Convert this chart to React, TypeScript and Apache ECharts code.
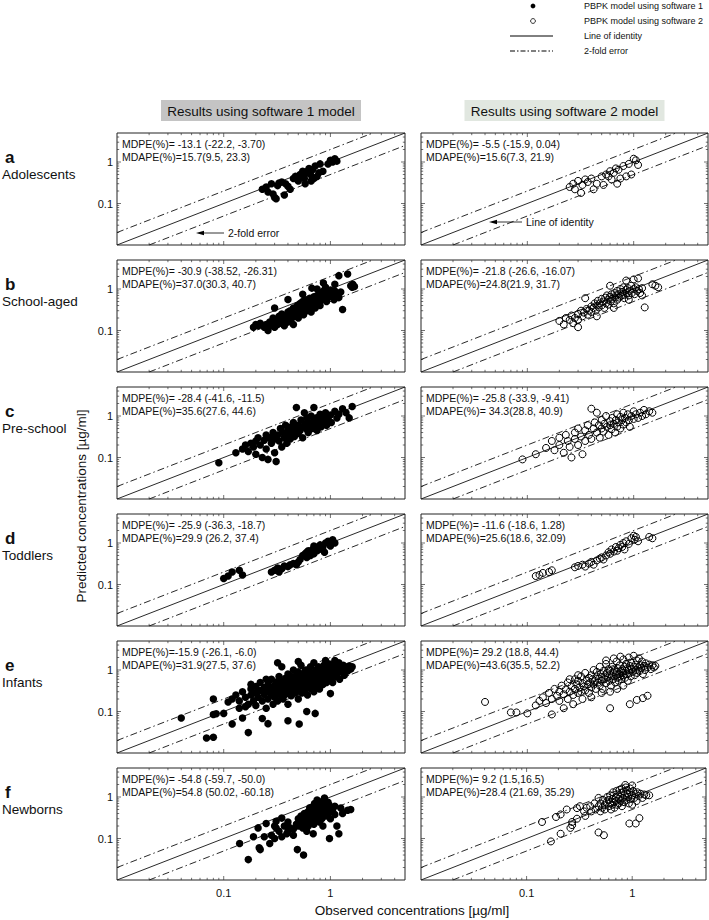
import React, { useEffect, useRef } from 'react';
import * as echarts from 'echarts';

const FONT = '"Liberation Sans", Arial, Helvetica, sans-serif';

// ---------- data ----------
const rowLetters = ['a', 'b', 'c', 'd', 'e', 'f'];
const rowNames = ['Adolescents', 'School-aged', 'Pre-school', 'Toddlers', 'Infants', 'Newborns'];
const colTitles = ['Results using software 1 model', 'Results using software 2 model'];

const mdpe1 = ['MDPE(%)= -13.1 (-22.2, -3.70)', 'MDPE(%)= -30.9 (-38.52, -26.31)', 'MDPE(%)= -28.4 (-41.6, -11.5)', 'MDPE(%)= -25.9 (-36.3, -18.7)', 'MDPE(%)=-15.9 (-26.1, -6.0)', 'MDPE(%)= -54.8 (-59.7, -50.0)'];
const mdape1 = ['MDAPE(%)=15.7(9.5, 23.3)', 'MDAPE(%)=37.0(30.3, 40.7)', 'MDAPE(%)=35.6(27.6, 44.6)', 'MDAPE(%)=29.9 (26.2, 37.4)', 'MDAPE(%)=31.9(27.5, 37.6)', 'MDAPE(%)=54.8 (50.02, -60.18)'];
const mdpe2 = ['MDPE(%)= -5.5 (-15.9, 0.04)', 'MDPE(%)= -21.8 (-26.6, -16.07)', 'MDPE(%)= -25.8 (-33.9, -9.41)', 'MDPE(%)= -11.6 (-18.6, 1.28)', 'MDPE(%)= 29.2 (18.8, 44.4)', 'MDPE(%)= 9.2 (1.5,16.5)'];
const mdape2 = ['MDAPE(%)=15.6(7.3, 21.9)', 'MDAPE(%)=24.8(21.9, 31.7)', 'MDAPE(%)= 34.3(28.8, 40.9)', 'MDAPE(%)=25.6(18.6, 32.09)', 'MDAPE(%)=43.6(35.5, 52.2)', 'MDAPE(%)=28.4 (21.69, 35.29)'];

const legendLabels = ['PBPK model using software 1', 'PBPK model using software 2', 'Line of identity', '2-fold error'];

const axisMin = 0.01;
const axisMax = 5;
const identityLine = [[0.01, 0.01], [5, 5]];
const upperFold = [[0.01, 0.02], [2.5, 5]];
const lowerFold = [[0.02, 0.01], [5, 2.5]];

const A1 = [[0.23,0.22],[0.25,0.25],[0.26,0.19],[0.28,0.3],[0.29,0.17],[0.3,0.14],[0.31,0.13],[0.32,0.27],[0.33,0.31],[0.35,0.33],[0.37,0.16],[0.38,0.3],[0.4,0.26],[0.42,0.22],[0.45,0.4],[0.47,0.45],[0.5,0.35],[0.52,0.5],[0.55,0.45],[0.55,0.6],[0.57,0.4],[0.58,0.3],[0.6,0.55],[0.62,0.62],[0.63,0.7],[0.65,0.5],[0.66,0.35],[0.68,0.65],[0.7,0.4],[0.72,0.8],[0.75,0.45],[0.78,0.55],[0.8,0.9],[0.85,0.6],[0.95,0.9],[1.0,1.1],[1.05,1.0],[1.1,1.2],[1.15,1.05]];
const A2 = [[0.25,0.25],[0.27,0.3],[0.28,0.22],[0.3,0.35],[0.32,0.18],[0.33,0.28],[0.35,0.38],[0.37,0.33],[0.4,0.4],[0.42,0.22],[0.45,0.3],[0.5,0.45],[0.52,0.28],[0.55,0.5],[0.58,0.45],[0.6,0.6],[0.62,0.38],[0.65,0.55],[0.68,0.7],[0.7,0.3],[0.72,0.65],[0.75,0.4],[0.8,0.8],[0.85,0.45],[0.9,0.9],[0.95,0.5],[1.0,1.2],[1.05,1.1],[1.1,0.85]];

const B1 = [[0.19,0.12],[0.2,0.14],[0.21,0.13],[0.22,0.15],[0.24,0.12],[0.25,0.14],[0.26,0.1],[0.27,0.16],[0.28,0.13],[0.29,0.2],[0.3,0.16],[0.3,0.12],[0.31,0.18],[0.32,0.14],[0.33,0.22],[0.34,0.18],[0.35,0.15],[0.35,0.25],[0.36,0.2],[0.37,0.13],[0.38,0.23],[0.39,0.18],[0.4,0.28],[0.4,0.16],[0.41,0.22],[0.42,0.3],[0.43,0.19],[0.44,0.26],[0.45,0.35],[0.45,0.14],[0.46,0.22],[0.47,0.3],[0.48,0.25],[0.49,0.4],[0.5,0.33],[0.5,0.2],[0.51,0.28],[0.52,0.45],[0.53,0.37],[0.54,0.3],[0.55,0.5],[0.56,0.24],[0.57,0.42],[0.58,0.35],[0.59,0.55],[0.6,0.45],[0.6,0.3],[0.62,0.5],[0.63,0.38],[0.64,0.6],[0.65,0.46],[0.66,0.28],[0.67,0.55],[0.68,0.42],[0.7,0.65],[0.7,0.5],[0.72,0.35],[0.73,0.58],[0.75,0.7],[0.76,0.48],[0.78,0.62],[0.8,0.8],[0.8,0.4],[0.82,0.55],[0.84,0.7],[0.86,0.9],[0.88,0.6],[0.9,0.75],[0.92,0.5],[0.95,0.85],[0.97,0.65],[1.0,0.95],[1.02,0.7],[1.05,0.8],[1.08,0.55],[1.1,0.9],[1.15,0.75],[1.2,0.62],[1.25,0.85],[1.3,0.32],[0.4,0.56],[0.67,1.05],[0.86,1.4],[1.2,2.1],[1.45,2.3],[1.55,1.2],[1.62,1.3],[1.68,1.15],[1.6,1.1],[0.55,0.75],[0.75,1.0],[0.9,1.1],[1.1,1.3],[0.3,0.35]];
const B2 = [[0.2,0.17],[0.22,0.14],[0.23,0.2],[0.25,0.18],[0.26,0.23],[0.27,0.15],[0.28,0.2],[0.3,0.25],[0.3,0.18],[0.32,0.3],[0.33,0.22],[0.34,0.27],[0.35,0.6],[0.36,0.33],[0.37,0.24],[0.38,0.3],[0.4,0.38],[0.4,0.28],[0.42,0.35],[0.43,0.45],[0.44,0.3],[0.45,0.4],[0.46,0.52],[0.47,0.36],[0.48,0.45],[0.5,0.58],[0.5,0.4],[0.52,0.5],[0.53,0.35],[0.54,0.62],[0.55,0.45],[0.56,0.7],[0.57,0.55],[0.58,0.42],[0.6,0.65],[0.6,1.2],[0.61,0.5],[0.62,0.75],[0.63,0.58],[0.65,0.45],[0.66,0.8],[0.67,0.62],[0.68,0.7],[0.7,0.9],[0.7,0.55],[0.72,0.75],[0.73,0.62],[0.75,1.0],[0.76,0.68],[0.78,0.85],[0.8,0.72],[0.8,1.1],[0.82,0.6],[0.84,0.95],[0.85,1.6],[0.86,0.8],[0.88,1.05],[0.9,0.7],[0.92,0.9],[0.95,1.2],[0.96,0.8],[1.0,1.0],[1.0,1.7],[1.02,0.75],[1.05,1.1],[1.08,0.9],[1.1,1.8],[1.12,1.0],[1.15,0.8],[1.2,1.05],[1.27,0.36],[1.5,1.3],[1.6,1.2],[1.7,1.1],[0.45,0.22],[0.65,0.35],[0.9,0.55],[1.2,0.7],[0.3,0.12]];

const C1 = [[0.09,0.075],[0.13,0.13],[0.15,0.16],[0.16,0.2],[0.17,0.14],[0.18,0.22],[0.19,0.18],[0.2,0.25],[0.2,0.12],[0.21,0.3],[0.22,0.2],[0.23,0.1],[0.24,0.26],[0.25,0.35],[0.25,0.16],[0.26,0.09],[0.27,0.3],[0.28,0.22],[0.29,0.4],[0.3,0.13],[0.3,0.28],[0.31,0.08],[0.32,0.35],[0.33,0.25],[0.34,0.5],[0.35,0.18],[0.36,0.4],[0.37,0.3],[0.38,0.6],[0.39,0.22],[0.4,0.45],[0.41,0.35],[0.42,0.28],[0.43,0.55],[0.44,0.4],[0.45,0.7],[0.46,0.32],[0.47,0.5],[0.48,1.6],[0.5,0.6],[0.5,0.38],[0.52,0.45],[0.53,0.8],[0.55,0.55],[0.55,0.3],[0.57,1.2],[0.58,0.65],[0.6,0.48],[0.6,0.9],[0.62,0.4],[0.63,0.7],[0.65,0.58],[0.66,1.0],[0.68,0.5],[0.7,0.75],[0.7,1.6],[0.72,0.62],[0.74,0.9],[0.75,0.45],[0.77,0.8],[0.8,0.65],[0.8,1.1],[0.82,0.55],[0.85,0.95],[0.88,0.75],[0.9,1.2],[0.92,0.6],[0.95,0.85],[1.0,1.05],[1.02,0.7],[1.1,1.3],[1.15,0.9],[1.2,1.1],[1.3,1.5],[1.4,1.2],[1.6,1.7],[1.5,0.9]];
const C2 = [[0.09,0.09],[0.12,0.12],[0.15,0.17],[0.17,0.25],[0.18,0.15],[0.2,0.3],[0.2,0.2],[0.22,0.13],[0.23,0.35],[0.24,0.25],[0.25,0.18],[0.26,0.1],[0.28,0.4],[0.28,0.28],[0.3,0.2],[0.3,0.5],[0.32,0.32],[0.33,0.12],[0.35,0.45],[0.35,0.25],[0.37,0.6],[0.38,0.35],[0.4,1.5],[0.4,0.28],[0.42,0.5],[0.43,0.7],[0.45,0.4],[0.45,1.2],[0.47,0.6],[0.48,0.3],[0.5,0.8],[0.5,0.5],[0.52,0.42],[0.53,0.65],[0.55,1.0],[0.56,0.55],[0.58,0.35],[0.6,0.75],[0.6,0.6],[0.62,0.48],[0.63,0.9],[0.65,0.65],[0.67,0.4],[0.68,0.8],[0.7,0.55],[0.7,1.1],[0.72,0.7],[0.75,0.95],[0.75,0.5],[0.78,0.8],[0.8,0.62],[0.8,1.2],[0.83,0.9],[0.85,0.7],[0.88,1.1],[0.9,0.8],[0.92,0.55],[0.95,1.0],[1.0,0.85],[1.0,1.3],[1.05,1.1],[1.1,0.9],[1.15,1.2],[1.2,1.0],[1.25,1.4],[1.3,1.1],[1.4,1.3],[1.5,1.2]];

const D1 = [[0.1,0.14],[0.11,0.16],[0.12,0.2],[0.14,0.22],[0.15,0.17],[0.28,0.2],[0.3,0.22],[0.32,0.25],[0.33,0.2],[0.35,0.24],[0.37,0.28],[0.4,0.27],[0.42,0.3],[0.45,0.32],[0.48,0.3],[0.5,0.35],[0.52,0.4],[0.55,0.5],[0.58,0.55],[0.6,0.6],[0.62,0.65],[0.65,0.5],[0.68,0.7],[0.7,0.55],[0.72,0.8],[0.75,0.65],[0.78,0.7],[0.8,0.9],[0.82,0.75],[0.85,0.8],[0.9,1.0],[0.95,1.1],[1.0,0.85],[1.05,1.2],[1.1,1.0],[0.7,0.85],[0.88,0.6],[0.6,0.45]];
const D2 = [[0.12,0.16],[0.13,0.17],[0.14,0.19],[0.16,0.2],[0.17,0.22],[0.28,0.26],[0.3,0.28],[0.33,0.3],[0.35,0.27],[0.38,0.32],[0.4,0.35],[0.42,0.3],[0.45,0.38],[0.48,0.42],[0.5,0.45],[0.52,0.4],[0.55,0.5],[0.58,0.6],[0.6,0.55],[0.62,0.7],[0.65,0.62],[0.68,0.8],[0.7,0.65],[0.72,0.75],[0.75,0.9],[0.78,0.8],[0.8,1.0],[0.82,0.7],[0.85,1.1],[0.9,0.95],[0.95,1.3],[1.0,1.5],[1.02,1.2],[1.05,1.4],[1.1,1.1],[1.4,1.4],[1.5,1.3]];

const E1 = [[0.04,0.07],[0.069,0.023],[0.08,0.024],[0.08,0.085],[0.085,0.088],[0.1,0.09],[0.08,0.2],[0.11,0.17],[0.12,0.05],[0.17,0.031],[0.15,0.07],[0.14,0.12],[0.16,0.13],[0.23,0.068],[0.26,0.051],[0.4,0.06],[0.51,0.05],[0.6,0.1],[0.72,0.09],[1.0,0.27],[0.12,0.2],[0.13,0.25],[0.14,0.18],[0.15,0.3],[0.16,0.22],[0.17,0.15],[0.18,0.35],[0.18,0.25],[0.19,0.18],[0.2,0.4],[0.2,0.28],[0.2,0.14],[0.21,0.22],[0.22,0.32],[0.22,0.5],[0.23,0.18],[0.24,0.26],[0.24,0.38],[0.25,0.12],[0.25,0.3],[0.26,0.2],[0.26,0.45],[0.27,0.34],[0.28,0.25],[0.28,0.6],[0.29,0.15],[0.29,0.4],[0.3,0.3],[0.3,0.22],[0.31,0.5],[0.31,0.35],[0.32,0.18],[0.32,0.28],[0.33,0.42],[0.33,0.7],[0.34,0.25],[0.34,0.55],[0.35,0.32],[0.35,1.2],[0.36,0.4],[0.36,0.2],[0.37,0.48],[0.37,0.3],[0.38,0.62],[0.38,0.26],[0.39,0.36],[0.4,0.45],[0.4,0.8],[0.4,0.15],[0.41,0.3],[0.42,0.55],[0.42,0.38],[0.43,0.24],[0.43,0.7],[0.44,0.42],[0.45,0.5],[0.45,0.32],[0.45,1.0],[0.46,0.6],[0.47,0.28],[0.47,0.45],[0.48,0.75],[0.48,0.38],[0.49,0.55],[0.5,0.2],[0.5,0.5],[0.5,0.9],[0.51,0.35],[0.52,0.65],[0.52,0.45],[0.53,1.3],[0.54,0.28],[0.54,0.58],[0.55,0.8],[0.55,0.4],[0.56,0.5],[0.57,0.68],[0.58,0.32],[0.58,1.0],[0.59,0.55],[0.6,0.45],[0.6,0.75],[0.61,0.25],[0.62,0.62],[0.62,0.9],[0.63,0.4],[0.64,0.52],[0.65,1.2],[0.65,0.7],[0.66,0.35],[0.67,0.58],[0.68,0.85],[0.68,0.45],[0.69,0.65],[0.7,1.5],[0.7,0.3],[0.71,0.75],[0.72,0.55],[0.73,1.0],[0.74,0.42],[0.75,0.68],[0.75,0.88],[0.76,0.5],[0.77,1.2],[0.78,0.6],[0.79,0.35],[0.8,0.8],[0.8,0.95],[0.82,0.55],[0.83,1.1],[0.84,0.7],[0.85,0.45],[0.86,0.9],[0.87,1.3],[0.88,0.62],[0.9,0.78],[0.9,1.0],[0.92,0.5],[0.93,1.15],[0.95,0.7],[0.96,0.88],[0.98,1.4],[1.0,0.6],[1.0,1.05],[1.02,0.8],[1.05,1.2],[1.05,0.5],[1.08,0.95],[1.1,1.3],[1.12,0.7],[1.15,1.05],[1.18,0.85],[1.2,1.5],[1.22,0.6],[1.25,1.1],[1.3,0.9],[1.32,1.3],[1.35,0.75],[1.4,1.15],[1.45,0.95],[1.5,1.25],[1.55,1.05],[1.6,1.2],[0.32,1.5],[0.5,1.6],[0.9,1.7],[1.1,1.7],[0.25,0.6],[0.18,0.45]];
const E2 = [[0.04,0.17],[0.07,0.095],[0.079,0.095],[0.1,0.09],[0.17,0.085],[0.6,0.12],[0.92,0.15],[1.07,0.19],[1.22,0.21],[1.35,0.24],[0.12,0.14],[0.13,0.18],[0.14,0.22],[0.15,0.16],[0.16,0.28],[0.17,0.2],[0.18,0.35],[0.19,0.24],[0.2,0.3],[0.2,0.18],[0.21,0.42],[0.22,0.26],[0.23,0.34],[0.24,0.2],[0.24,0.5],[0.25,0.3],[0.26,0.4],[0.27,0.25],[0.28,0.6],[0.28,0.35],[0.29,0.45],[0.3,0.28],[0.3,0.55],[0.31,0.38],[0.32,0.7],[0.32,0.3],[0.33,0.48],[0.34,0.4],[0.35,0.85],[0.35,0.32],[0.36,0.55],[0.37,0.45],[0.38,0.65],[0.38,0.28],[0.39,0.5],[0.4,0.75],[0.4,0.38],[0.41,0.6],[0.42,1.0],[0.42,0.45],[0.43,0.55],[0.44,0.35],[0.45,0.7],[0.45,0.9],[0.46,0.5],[0.47,0.62],[0.48,1.2],[0.48,0.42],[0.49,0.8],[0.5,0.55],[0.5,0.68],[0.51,0.35],[0.52,0.95],[0.53,0.6],[0.54,0.75],[0.55,0.48],[0.55,1.4],[0.56,0.85],[0.57,0.65],[0.58,1.05],[0.59,0.55],[0.6,0.78],[0.6,0.95],[0.61,0.42],[0.62,0.7],[0.63,1.2],[0.64,0.6],[0.65,0.88],[0.66,1.0],[0.67,0.5],[0.68,0.75],[0.69,1.6],[0.7,0.65],[0.7,0.9],[0.71,1.1],[0.72,0.55],[0.73,0.8],[0.74,1.3],[0.75,0.7],[0.76,0.95],[0.77,0.6],[0.78,1.05],[0.79,0.85],[0.8,1.8],[0.8,0.75],[0.82,1.2],[0.83,0.65],[0.84,0.95],[0.85,1.4],[0.86,0.8],[0.87,1.1],[0.88,0.55],[0.9,1.0],[0.9,2.0],[0.91,0.85],[0.92,1.25],[0.94,0.7],[0.95,1.5],[0.96,1.05],[0.98,0.9],[1.0,1.2],[1.0,2.2],[1.02,0.75],[1.04,1.35],[1.05,1.0],[1.07,1.7],[1.08,0.85],[1.1,1.15],[1.12,1.9],[1.14,0.95],[1.15,1.3],[1.18,1.1],[1.2,1.6],[1.22,0.8],[1.25,1.25],[1.28,1.0],[1.3,1.45],[1.35,1.15],[1.4,1.35],[1.45,1.05],[1.5,1.3],[1.55,1.15],[1.6,1.25],[0.22,0.12],[0.27,0.15],[0.33,0.2],[0.4,0.22],[0.5,0.28],[0.6,0.3],[0.7,0.35],[0.8,0.42],[0.3,0.75],[0.25,0.6],[0.55,1.7],[0.65,1.9],[0.75,2.1]];

const F1 = [[0.141,0.076],[0.17,0.031],[0.19,0.11],[0.21,0.18],[0.22,0.054],[0.215,0.06],[0.25,0.23],[0.24,0.11],[0.27,0.076],[0.31,0.18],[0.31,0.26],[0.35,0.31],[0.35,0.11],[0.39,0.13],[0.49,0.054],[0.56,0.04],[0.69,0.13],[0.98,0.1],[1.2,0.13],[1.25,0.54],[1.45,0.48],[1.55,0.5],[0.75,0.85],[0.88,0.95],[0.28,0.12],[0.3,0.1],[0.33,0.15],[0.37,0.2],[0.4,0.15],[0.42,0.18],[0.45,0.17],[0.48,0.22],[0.5,0.2],[0.5,0.3],[0.52,0.25],[0.53,0.35],[0.55,0.18],[0.55,0.28],[0.57,0.4],[0.58,0.22],[0.6,0.32],[0.6,0.25],[0.62,0.45],[0.62,0.2],[0.63,0.3],[0.64,0.55],[0.65,0.38],[0.66,0.25],[0.67,0.48],[0.68,0.33],[0.69,0.6],[0.7,0.4],[0.7,0.22],[0.71,0.7],[0.72,0.5],[0.73,0.3],[0.74,0.42],[0.75,0.6],[0.76,0.35],[0.77,0.75],[0.78,0.45],[0.79,0.25],[0.8,0.55],[0.8,0.38],[0.82,0.65],[0.83,0.3],[0.84,0.5],[0.85,0.8],[0.86,0.42],[0.88,0.6],[0.9,0.35],[0.9,0.7],[0.92,0.5],[0.95,0.4],[0.97,0.65],[1.0,0.3],[1.0,0.55],[1.05,0.45],[1.1,0.38],[1.1,0.6],[1.15,0.2],[1.3,0.4],[0.45,0.12],[0.4,0.25],[0.6,0.15],[0.85,0.2],[0.3,0.2],[0.95,0.75]];
const F2 = [[0.14,0.25],[0.17,0.085],[0.19,0.33],[0.21,0.13],[0.21,0.38],[0.24,0.5],[0.27,0.25],[0.27,0.21],[0.26,0.18],[0.3,0.54],[0.32,0.6],[0.37,0.55],[0.36,0.35],[0.41,0.45],[0.48,0.14],[0.54,0.12],[0.48,0.95],[1.08,0.23],[0.94,0.23],[1.17,0.31],[1.36,1.1],[1.45,1.1],[0.86,1.95],[1.0,1.9],[0.45,0.5],[0.48,0.6],[0.5,0.45],[0.5,0.7],[0.52,0.55],[0.53,0.85],[0.55,0.65],[0.55,0.5],[0.57,0.75],[0.58,1.0],[0.6,0.6],[0.6,0.85],[0.62,0.7],[0.62,1.1],[0.63,0.5],[0.65,0.9],[0.65,0.65],[0.66,1.3],[0.67,0.75],[0.68,0.55],[0.7,1.0],[0.7,0.8],[0.71,1.4],[0.72,0.65],[0.73,1.15],[0.74,0.9],[0.75,0.7],[0.76,1.5],[0.77,1.0],[0.78,0.8],[0.79,1.25],[0.8,0.6],[0.8,1.6],[0.82,0.95],[0.83,1.35],[0.84,0.75],[0.85,1.1],[0.87,1.7],[0.88,0.85],[0.9,1.2],[0.9,1.45],[0.92,1.0],[0.93,0.7],[0.95,1.3],[0.96,1.6],[0.98,0.9],[1.0,1.1],[1.0,0.65],[1.02,1.4],[1.05,0.95],[1.08,1.2],[1.1,0.8],[1.12,1.3],[1.15,1.05],[1.2,1.2],[1.25,0.95],[1.3,1.15],[0.4,0.6],[0.44,0.7],[0.35,0.45],[0.3,0.3]];

const software1Data = [A1, B1, C1, D1, E1, F1];
const software2Data = [A2, B2, C2, D2, E2, F2];

// ---------- layout ----------
const COL_LEFT = [117, 421];
const COL_W = [288, 287];
const ROW_TOP0 = 133;
const ROW_STEP = 127;
const ROW_H = 112;
const DASHDOT = [7, 3, 1.5, 3];

const fmtLog = (v: number) => {
  const e = Math.round(Math.log10(v));
  if (Math.abs(Math.log10(v) - e) > 1e-6) return '';
  return e === -1 ? '0.1' : e === 0 ? '1' : '';
};

export default function App() {
  const ref = useRef<HTMLDivElement>(null);
  useEffect(() => {
    const chart = echarts.init(ref.current as HTMLDivElement, null, { renderer: 'svg' });
    const grid: any[] = [];
    const xAxis: any[] = [];
    const yAxis: any[] = [];
    const series: any[] = [];
    for (let r = 0; r < 6; r++) {
      for (let c = 0; c < 2; c++) {
        const g = r * 2 + c;
        grid.push({
          left: COL_LEFT[c], top: ROW_TOP0 + r * ROW_STEP, width: COL_W[c], height: ROW_H,
          show: true, borderColor: '#222', borderWidth: 1, backgroundColor: 'transparent',
        });
        xAxis.push({
          type: 'log', logBase: 10, gridIndex: g, min: axisMin, max: axisMax,
          axisLine: { show: false }, axisTick: { show: false }, splitLine: { show: false },
          axisLabel: { show: r === 5, formatter: fmtLog, fontSize: 11, color: '#111', margin: 7, fontFamily: FONT },
        });
        yAxis.push({
          type: 'log', logBase: 10, gridIndex: g, min: axisMin, max: axisMax,
          axisLine: { show: false }, axisTick: { show: false }, splitLine: { show: false },
          axisLabel: { show: c === 0, formatter: fmtLog, fontSize: 11, color: '#111', margin: 4, fontFamily: FONT },
        });
        const lineBase = { type: 'line', xAxisIndex: g, yAxisIndex: g, showSymbol: false, silent: true, clip: true, z: 2 };
        series.push({ ...lineBase, data: identityLine, lineStyle: { color: '#111', width: 0.9 } });
        series.push({ ...lineBase, data: upperFold, lineStyle: { color: '#111', width: 0.9, type: DASHDOT } });
        series.push({ ...lineBase, data: lowerFold, lineStyle: { color: '#111', width: 0.9, type: DASHDOT } });
        const pts = c === 0 ? software1Data[r] : software2Data[r];
        series.push({
          type: 'scatter', xAxisIndex: g, yAxisIndex: g, data: pts, silent: true, z: 3,
          symbol: 'circle', symbolSize: c === 0 ? 7.5 : 7,
          itemStyle: c === 0
            ? { color: '#000', opacity: 1 }
            : { color: 'rgba(0,0,0,0)', borderColor: '#000', borderWidth: 1, opacity: 1 },
        });
      }
    }
    chart.setOption({ animation: false, grid, xAxis, yAxis, series });

    const els: any[] = [];
    const txt = (x: number, y: number, text: string, size: number, extra: any = {}) => ({
      type: 'text', x, y, silent: true, z: 10,
      style: { text, fontSize: size, fontFamily: FONT, fill: '#111', textAlign: 'left', textVerticalAlign: 'middle', ...extra },
    });

    // column titles
    const titleFills = ['#c4c4c4', '#e1e7e0'];
    for (let c = 0; c < 2; c++) {
      const cx = COL_LEFT[c] + COL_W[c] / 2;
      els.push({ type: 'rect', silent: true, z: 9, shape: { x: cx - 100, y: 100, width: 200, height: 21 }, style: { fill: titleFills[c] } });
      els.push(txt(cx, 111, colTitles[c], 13.5, { textAlign: 'center' }));
    }

    // row labels & stats
    for (let r = 0; r < 6; r++) {
      const top = ROW_TOP0 + r * ROW_STEP;
      els.push(txt(5, top + 24, rowLetters[r], 17, { fontWeight: 'bold' }));
      els.push(txt(2, top + 41, rowNames[r], 13.5));
      els.push(txt(COL_LEFT[0] + 5, top + 11, mdpe1[r], 10.5));
      els.push(txt(COL_LEFT[0] + 5, top + 24, mdape1[r], 10.5));
      els.push(txt(COL_LEFT[1] + 5, top + 11, mdpe2[r], 10.5));
      els.push(txt(COL_LEFT[1] + 5, top + 24, mdape2[r], 10.5));
    }

    // axis titles
    els.push(txt(412, 910, 'Observed concentrations [µg/ml]', 13.5, { textAlign: 'center' }));
    els.push({ ...txt(0, 0, 'Predicted concentrations [µg/ml]', 13.5, { textAlign: 'center' }), x: 81, y: 506, rotation: Math.PI / 2 });

    // legend
    els.push({ type: 'circle', silent: true, shape: { cx: 533, cy: 6, r: 2.4 }, style: { fill: '#000' } });
    els.push({ type: 'circle', silent: true, shape: { cx: 533, cy: 21, r: 2.4 }, style: { fill: 'none', stroke: '#000', lineWidth: 0.8 } });
    els.push({ type: 'line', silent: true, shape: { x1: 510, y1: 36, x2: 553, y2: 36 }, style: { stroke: '#000', lineWidth: 1 } });
    els.push({ type: 'line', silent: true, shape: { x1: 510, y1: 51, x2: 553, y2: 51 }, style: { stroke: '#000', lineWidth: 1, lineDash: [5, 2, 1.5, 2] } });
    legendLabels.forEach((t, i) => els.push(txt(584, 6 + i * 15, t, 9)));

    // annotations in row a
    els.push({ type: 'line', silent: true, z: 10, shape: { x1: 224, y1: 233, x2: 200, y2: 233 }, style: { stroke: '#000', lineWidth: 0.8 } });
    els.push({ type: 'polygon', silent: true, z: 10, shape: { points: [[196, 233], [204, 230.8], [204, 235.2]] }, style: { fill: '#000' } });
    els.push(txt(228, 233, '2-fold error', 10.5));
    els.push({ type: 'line', silent: true, z: 10, shape: { x1: 522, y1: 222, x2: 493, y2: 222 }, style: { stroke: '#000', lineWidth: 0.8 } });
    els.push({ type: 'polygon', silent: true, z: 10, shape: { points: [[489, 222], [497, 219.8], [497, 224.2]] }, style: { fill: '#000' } });
    els.push(txt(526, 222, 'Line of identity', 10.5));

    // ticks on all four sides (log major + minor)
    const tickVals: { v: number; major: boolean }[] = [];
    [0.01, 0.1, 1].forEach((d) => {
      for (let m = 1; m <= 9; m++) {
        const v = m * d;
        if (v <= axisMin * 1.0001 || v >= axisMax * 0.9999) continue;
        tickVals.push({ v, major: m === 1 });
      }
    });
    for (let g = 0; g < 12; g++) {
      const bl = chart.convertToPixel({ gridIndex: g }, [axisMin, axisMin]) as number[];
      const tr = chart.convertToPixel({ gridIndex: g }, [axisMax, axisMax]) as number[];
      tickVals.forEach(({ v, major }) => {
        const len = major ? 4 : 2.2;
        const p = chart.convertToPixel({ gridIndex: g }, [v, v]) as number[];
        const st = { stroke: '#333', lineWidth: 0.7 };
        els.push({ type: 'line', silent: true, shape: { x1: p[0], y1: bl[1], x2: p[0], y2: bl[1] - len }, style: st });
        els.push({ type: 'line', silent: true, shape: { x1: p[0], y1: tr[1], x2: p[0], y2: tr[1] + len }, style: st });
        els.push({ type: 'line', silent: true, shape: { x1: bl[0], y1: p[1], x2: bl[0] + len, y2: p[1] }, style: st });
        els.push({ type: 'line', silent: true, shape: { x1: tr[0], y1: p[1], x2: tr[0] - len, y2: p[1] }, style: st });
      });
    }
    chart.setOption({ graphic: { elements: els } });
    return () => chart.dispose();
  }, []);
  return <div ref={ref} style={{ position: 'absolute', left: 0, top: 0, width: 709, height: 920, background: '#fff' }} />;
}
